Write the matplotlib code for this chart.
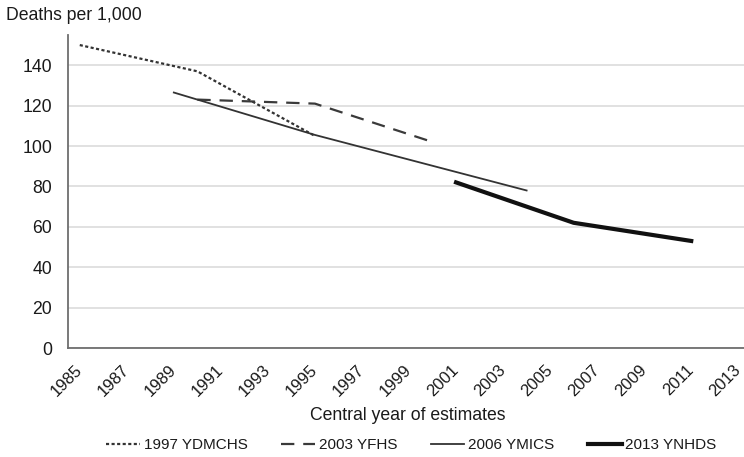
import matplotlib.pyplot as plt
from matplotlib.transforms import ScaledTranslation

plt.rcParams["font.family"] = ["Liberation Sans", "DejaVu Sans"]

TEXT_COLOR = "#1a1a1a"
GRID_COLOR = "#d9d9d9"

# Under-five mortality estimates by survey, central year of estimate
ydmchs_years = [1985, 1990, 1995]
ydmchs_rates = [150, 137, 105]

yfhs_years = [1990, 1995, 2000]
yfhs_rates = [123, 121, 102]

ymics_years = [1989, 1995, 2004]
ymics_rates = [126.5, 105.5, 78]

ynhds_years = [2001, 2006, 2011]
ynhds_rates = [82, 62, 53]

year_ticks = list(range(1985, 2014, 2))
y_ticks = list(range(0, 141, 20))

fig = plt.figure(figsize=(7.44, 4.57), dpi=100)
ax = fig.add_axes([0.0914, 0.2385, 0.9167, 0.685])

ax.plot(ydmchs_years, ydmchs_rates, color="#333333", linewidth=1.6,
        linestyle=(0, (1.4, 1.1)), label="1997 YDMCHS", zorder=3)
ax.plot(yfhs_years, yfhs_rates, color="#3a3a3a", linewidth=1.6,
        linestyle=(0, (6, 4)), label="2003 YFHS", zorder=3)
ax.plot(ymics_years, ymics_rates, color="#333333", linewidth=1.3,
        label="2006 YMICS", zorder=3)
ax.plot(ynhds_years, ynhds_rates, color="#111111", linewidth=3.0,
        label="2013 YNHDS", zorder=3)

ax.set_xlim(1984.5, 2013.5)
ax.set_ylim(0, 155)
ax.set_xticks(year_ticks)
ax.set_xticklabels([str(y) for y in year_ticks], rotation=45, ha="right",
                   rotation_mode="anchor")
ax.set_yticks(y_ticks)
ax.tick_params(axis="y", length=0, labelsize=12.7, colors=TEXT_COLOR, pad=11.5)
ax.tick_params(axis="x", length=0, labelsize=12, colors=TEXT_COLOR, pad=10)

# nudge the slanted year labels so their upper end sits under the tick
shift = ScaledTranslation(-4 / 72, 0, fig.dpi_scale_trans)
for lbl in ax.get_xticklabels():
    lbl.set_transform(lbl.get_transform() + shift)

ax.grid(axis="y", color=GRID_COLOR, linewidth=1.1, zorder=0)
ax.set_axisbelow(True)
ax.spines[["top", "right"]].set_visible(False)
ax.spines[["left", "bottom"]].set_color("#6e6e6e")
ax.spines[["left", "bottom"]].set_linewidth(1.3)

fig.text(0.008, 0.965, "Deaths per 1,000", fontsize=12.7, color=TEXT_COLOR,
         ha="left", va="center")
fig.text(0.548, 0.090, "Central year of estimates", fontsize=12.7,
         color=TEXT_COLOR, ha="center", va="center")

fig.legend(loc="center", bbox_to_anchor=(0.553, 0.026), ncol=4, frameon=False,
           fontsize=11, handlelength=2.2, handletextpad=0.25,
           columnspacing=2.2, labelcolor=TEXT_COLOR)

fig.savefig("out.png", dpi=100)
